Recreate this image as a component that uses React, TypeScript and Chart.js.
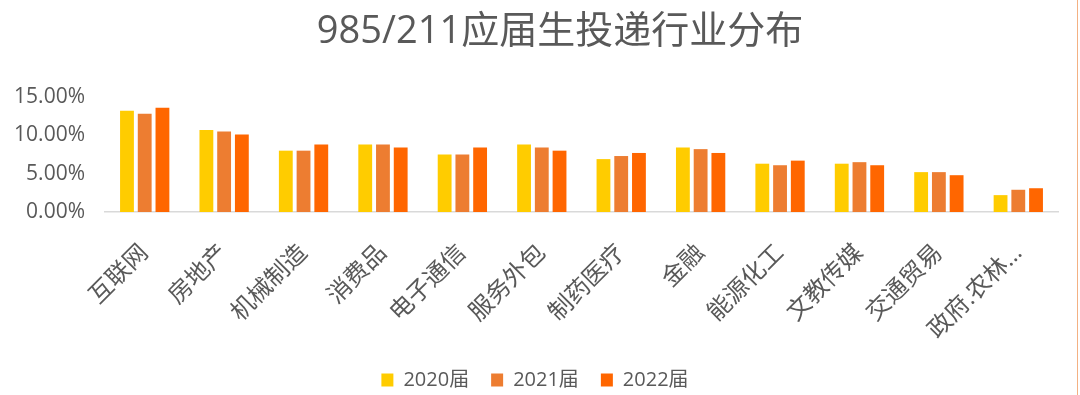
import React, { useEffect, useRef } from "react";
import { Chart, registerables } from "chart.js";

Chart.register(...registerables);

const chartTitle = "985/211应届生投递行业分布";
const categories = [
  "互联网",
  "房地产",
  "机械制造",
  "消费品",
  "电子通信",
  "服务外包",
  "制药医疗",
  "金融",
  "能源化工",
  "文教传媒",
  "交通贸易",
  "政府.农林…",
];
const seriesNames = ["2020届", "2021届", "2022届"];
const values2020 = [13.2, 10.7, 8.0, 8.8, 7.5, 8.8, 6.9, 8.4, 6.3, 6.3, 5.2, 2.2];
const values2021 = [12.8, 10.5, 8.0, 8.8, 7.5, 8.4, 7.3, 8.2, 6.1, 6.5, 5.2, 2.9];
const values2022 = [13.6, 10.1, 8.8, 8.4, 8.4, 8.0, 7.7, 7.7, 6.7, 6.1, 4.8, 3.1];
const yTicks = [0, 5, 10, 15];
const colors = ["#FFCC00", "#ED7D31", "#FF6600"];

const FONT = '"Open Sans", "Noto Sans CJK SC", sans-serif';
const TEXT = "#595959";

const titlePlugin = {
  id: "customTitle",
  afterDraw(chart: any) {
    const ctx = chart.ctx;
    ctx.save();
    ctx.font = `38px ${FONT}`;
    ctx.fillStyle = TEXT;
    ctx.textAlign = "center";
    ctx.textBaseline = "middle";
    ctx.fillText(chartTitle, 560, 32);
    ctx.strokeStyle = "#F4B183";
    ctx.lineWidth = 1;
    ctx.beginPath();
    ctx.moveTo(1077.5, 0);
    ctx.lineTo(1077.5, chart.height);
    ctx.stroke();
    ctx.restore();
  },
};

export default function App() {
  const ref = useRef<HTMLCanvasElement | null>(null);
  useEffect(() => {
    if (!ref.current) return;
    const series = [values2020, values2021, values2022];
    const chart = new Chart(ref.current, {
      type: "bar",
      data: {
        labels: categories,
        datasets: seriesNames.map((name, i) => ({
          label: name,
          data: series[i],
          backgroundColor: colors[i],
          borderWidth: 0,
          categoryPercentage: 0.67,
          barPercentage: 0.78,
        })),
      },
      options: {
        animation: false,
        responsive: true,
        maintainAspectRatio: false,
        layout: { padding: { top: 97, left: 12, right: 22, bottom: -5 } },
        plugins: {
          title: { display: false },
          tooltip: { enabled: false },
          legend: {
            display: true,
            position: "bottom",
            labels: {
              boxWidth: 12,
              boxHeight: 13,
              padding: 22,
              color: TEXT,
              font: { family: FONT, size: 20 },
            },
          },
        },
        scales: {
          x: {
            grid: { display: false, drawTicks: false },
            border: { display: true, color: "#D9D9D9", width: 1.5 },
            ticks: {
              color: TEXT,
              font: { family: FONT, size: 24 },
              minRotation: 45,
              maxRotation: 45,
              autoSkip: false,
              padding: 27,
            },
            afterFit(scale: any) {
              scale.height = 136;
            },
          },
          y: {
            min: 0,
            max: 15,
            grid: { display: false, drawTicks: false },
            border: { display: false },
            afterBuildTicks(scale: any) {
              scale.ticks = yTicks.map((v) => ({ value: v }));
            },
            ticks: {
              color: TEXT,
              font: { family: FONT, size: 21 },
              padding: 20,
              callback: (v: any) => Number(v).toFixed(2) + "%",
            },
            afterFit(scale: any) {
              scale.width = 93;
            },
          },
        },
      },
      plugins: [titlePlugin],
    });
    return () => chart.destroy();
  }, []);
  return (
    <div style={{ position: "absolute", left: 0, top: 0, width: 1080, height: 395, background: "#fff" }}>
      <canvas ref={ref} />
    </div>
  );
}
